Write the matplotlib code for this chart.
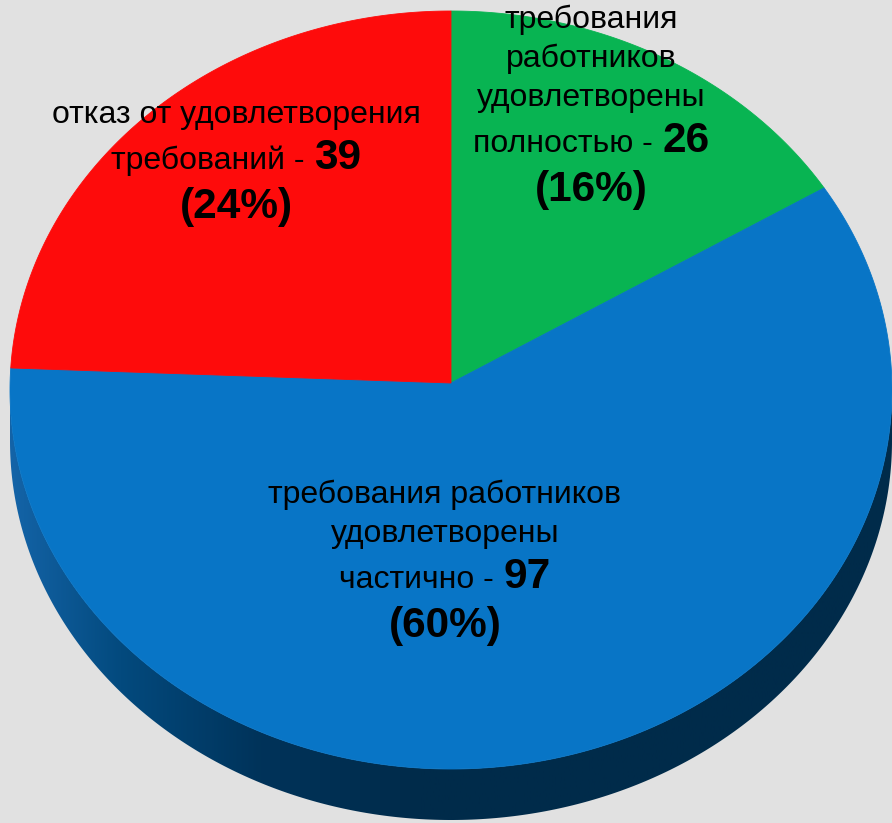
import numpy as np
import matplotlib.pyplot as plt
from matplotlib.patches import Polygon

# slices clockwise from 12 o'clock
values = [26, 97, 39]
colors = ['#08B452', '#0875C6', '#FE0B0B']
label_head = [
    ["требования", "работников", "удовлетворены"],
    ["требования работников", "удовлетворены"],
    ["отказ от удовлетворения"],
]
label_tail = ["полностью -", "частично -", "требований -"]

# label layout (pixel coords): centre x, first baseline
label_pos = [(591, 28), (445, 503), (236, 123)]

W, H = 892, 823
cx, cy = 451, 390          # ellipse centre of the top face
rx, ry = 441, 379
apex = (451, 383)          # where slices meet
depth = 51
FONT = 'Liberation Sans'
bg = '#E1E1E1'

fig = plt.figure(figsize=(W / 100, H / 100), dpi=100)
fig.patch.set_facecolor(bg)
ax = fig.add_axes([0, 0, 1, 1])
ax.set_xlim(0, W)
ax.set_ylim(H, 0)
ax.axis('off')


def arc(a1, a2, n=300, dy=0):
    t = np.radians(np.linspace(a1, a2, n))
    return np.column_stack([cx + rx * np.cos(t), cy - ry * np.sin(t) + dy])


# side of the disc (front half only)
top = arc(180, 360)
bottom = arc(360, 180, dy=depth)
side = Polygon(np.vstack([top, bottom]), closed=True, facecolor='none', edgecolor='none')
ax.add_patch(side)

stops_x = [10, 120, 260, 420, 892]
stops_c = np.array([[0x14, 0x64, 0xA8], [0x03, 0x4A, 0x7E], [0x00, 0x33, 0x5A],
                    [0x00, 0x2B, 0x4A], [0x00, 0x2B, 0x4A]]) / 255
xs = np.linspace(0, W, 600)
grad = np.stack([np.interp(xs, stops_x, stops_c[:, k]) for k in range(3)], axis=-1)[None, :, :]
im = ax.imshow(grad, extent=[0, W, H, 300], aspect='auto', zorder=1)
im.set_clip_path(side)
ax.set_xlim(0, W)
ax.set_ylim(H, 0)

# top face
total = sum(values)
start = 90
for v, c in zip(values, colors):
    end = start - v / total * 360
    pts = np.vstack([[apex], arc(start, end)])
    ax.add_patch(Polygon(pts, closed=True, facecolor=c, edgecolor=c, lw=0.6, zorder=2))
    start = end

# labels
fig.canvas.draw()
rend = fig.canvas.get_renderer()
norm_kw = dict(fontsize=23, family=FONT, va='baseline', zorder=3, color='black')
bold_kw = dict(fontsize=30.5, family=FONT, weight='bold', va='baseline', zorder=3, color='black')

for (xc, y), head, tail, v in zip(label_pos, label_head, label_tail, values):
    for i, line in enumerate(head):
        if i > 0:
            y += 39
        ax.text(xc, y, line, ha='center', **norm_kw)
    y += 46
    t1 = ax.text(0, y, tail, ha='left', **norm_kw)
    t2 = ax.text(0, y, str(v), ha='left', **bold_kw)
    w1 = t1.get_window_extent(rend).width
    w2 = t2.get_window_extent(rend).width
    gap = 10
    x0 = xc - (w1 + gap + w2) / 2
    t1.set_x(x0)
    t2.set_x(x0 + w1 + gap)
    y += 49
    ax.text(xc, y, f"({round(v / total * 100)}%)", ha='center', **bold_kw)

fig.savefig('out.png', dpi=100, facecolor=bg)
